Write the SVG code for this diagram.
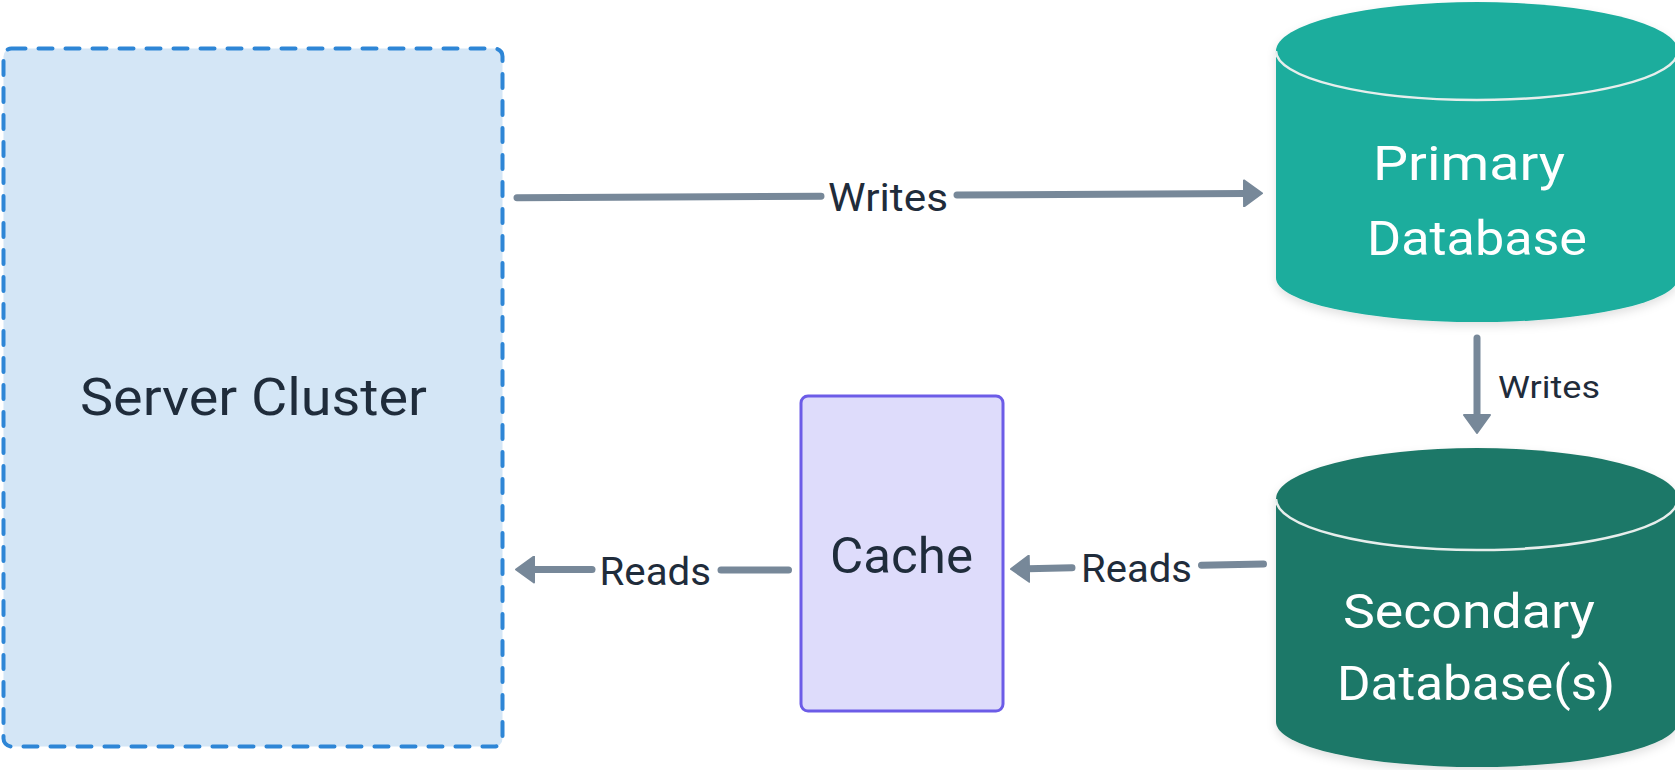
<svg xmlns="http://www.w3.org/2000/svg" width="1675" height="770" viewBox="0 0 1675 770">
  <defs>
    <style>
      .lbl { font-family: Roboto, "Noto Sans", "Liberation Sans", sans-serif; fill: #1f2c3b; }
      .dbtxt { font-family: Roboto, "Noto Sans", "Liberation Sans", sans-serif; fill: #ffffff; }
      .edge { fill: none; stroke: #778899; stroke-width: 7; stroke-linecap: round; }
      .seam { fill: none; stroke: #e6eeec; stroke-width: 2.5; }
    </style>
    <marker id="head" viewBox="0 0 20 28" markerUnits="userSpaceOnUse" markerWidth="20" markerHeight="28" refX="2" refY="14" orient="auto">
      <path d="M1,1 L19,14 L1,27 Z" fill="#778899" stroke="#778899" stroke-width="2" stroke-linejoin="round"/>
    </marker>
    <filter id="shadow" x="-10%" y="-10%" width="120%" height="130%">
      <feDropShadow dx="0" dy="4" stdDeviation="5" flood-color="#000000" flood-opacity="0.12"/>
    </filter>
  </defs>

  <rect width="1675" height="770" fill="#ffffff"/>

  <!-- Server cluster container -->
  <g id="server-cluster">
    <rect x="3.5" y="48.5" width="499" height="698" rx="8" fill="#d4e6f6" stroke="#2e86d6" stroke-width="4" stroke-dasharray="14 13" stroke-linecap="round"/>
    <text class="lbl" x="80" y="415" font-size="52" textLength="347" lengthAdjust="spacingAndGlyphs">Server Cluster</text>
  </g>

  <!-- Cache -->
  <g id="cache">
    <rect x="801" y="396" width="202" height="315" rx="7" fill="#dedcfb" stroke="#6c5ce7" stroke-width="3"/>
    <text class="lbl" x="830" y="573" font-size="50" textLength="143" lengthAdjust="spacingAndGlyphs">Cache</text>
  </g>

  <!-- Primary database cylinder -->
  <g id="primary-db" filter="url(#shadow)">
    <path d="M1276,51 A201,49 0 0 1 1678,51 L1678,278 A201,44 0 0 1 1276,278 Z" fill="#1bad9d"/>
    <path class="seam" d="M1276,51 A201,49 0 0 0 1678,51"/>
    <text class="dbtxt" x="1373" y="180" font-size="49" textLength="192" lengthAdjust="spacingAndGlyphs">Primary</text>
    <text class="dbtxt" x="1367" y="255" font-size="49" textLength="220" lengthAdjust="spacingAndGlyphs">Database</text>
  </g>

  <!-- Secondary database cylinder -->
  <g id="secondary-db" filter="url(#shadow)">
    <path d="M1276,499 A201,51 0 0 1 1678,499 L1678,722 A201,45 0 0 1 1276,722 Z" fill="#1e7867"/>
    <path class="seam" d="M1276,499 A201,51 0 0 0 1678,499"/>
    <text class="dbtxt" x="1343" y="628" font-size="49" textLength="252" lengthAdjust="spacingAndGlyphs">Secondary</text>
    <text class="dbtxt" x="1337" y="700" font-size="49" textLength="278" lengthAdjust="spacingAndGlyphs">Database(s)</text>
  </g>

  <!-- Connectors -->
  <g id="connectors">
    <!-- cluster -> primary -->
    <path class="edge" d="M517,197.7 L821,196.2"/>
    <path class="edge" d="M957,195 L1245,193.4" marker-end="url(#head)"/>
    <text class="lbl" x="828" y="210.5" font-size="39" textLength="120" lengthAdjust="spacingAndGlyphs">Writes</text>

    <!-- primary -> secondary -->
    <path class="edge" d="M1477,338 L1477,416" marker-end="url(#head)"/>
    <text class="lbl" x="1498" y="398" font-size="32" textLength="102" lengthAdjust="spacingAndGlyphs">Writes</text>

    <!-- secondary -> cache -->
    <path class="edge" d="M1263.5,564 L1201.5,565.2"/>
    <path class="edge" d="M1072,567.8 L1028,568.7" marker-end="url(#head)"/>
    <text class="lbl" x="1081" y="582" font-size="39" textLength="111" lengthAdjust="spacingAndGlyphs">Reads</text>

    <!-- cache -> cluster -->
    <path class="edge" d="M788.5,570 L721,570"/>
    <path class="edge" d="M592,569.5 L533,569.5" marker-end="url(#head)"/>
    <text class="lbl" x="599.5" y="585" font-size="39" textLength="111.5" lengthAdjust="spacingAndGlyphs">Reads</text>
  </g>
</svg>
